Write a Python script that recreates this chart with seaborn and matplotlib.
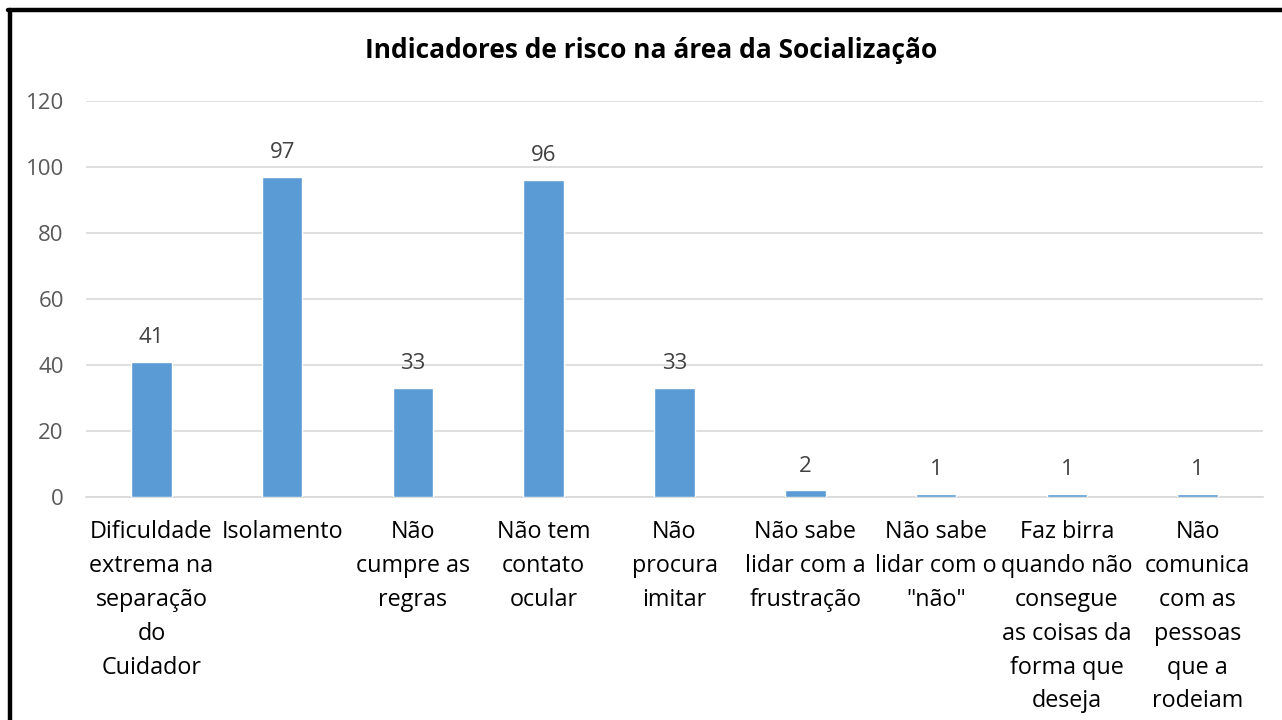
import matplotlib
matplotlib.use("Agg")
import matplotlib.pyplot as plt
import seaborn as sns
import pandas as pd

categories = [
    "Dificuldade\nextrema na\nseparação\ndo\nCuidador",
    "Isolamento",
    "Não\ncumpre as\nregras",
    "Não tem\ncontato\nocular",
    "Não\nprocura\nimitar",
    "Não sabe\nlidar com a\nfrustração",
    "Não sabe\nlidar com o\n\"não\"",
    "Faz birra\nquando não\nconsegue\nas coisas da\nforma que\ndeseja",
    "Não\ncomunica\ncom as\npessoas\nque a\nrodeiam",
]
values = [41, 97, 33, 96, 33, 2, 1, 1, 1]
yticks = [0, 20, 40, 60, 80, 100, 120]
title = "Indicadores de risco na área da Socialização"

sns.set_theme(style="white")
plt.rcParams["font.family"] = ["Open Sans", "DejaVu Sans"]

df = pd.DataFrame({"cat": categories, "val": values})

fig = plt.figure(figsize=(12.82, 7.2), dpi=100)
ax = fig.add_axes([86 / 1282, 1 - 497 / 720, (1263 - 86) / 1282, (497 - 101) / 720])

sns.barplot(data=df, x="cat", y="val", color="#5B9BD5", saturation=1, width=0.31, ax=ax, zorder=3)

ax.set_ylim(0, 120)
ax.set_yticks(yticks)
ax.set_yticklabels([str(t) for t in yticks], fontsize=16, color="#595959")
ax.set_xlim(-0.5, len(categories) - 0.5)
ax.yaxis.grid(True, color="#D9D9D9", linewidth=1.2, zorder=0)
ax.xaxis.grid(False)
for s in ["top", "right", "left"]:
    ax.spines[s].set_visible(False)
ax.spines["bottom"].set_color("#D9D9D9")
ax.spines["bottom"].set_linewidth(1.2)
ax.tick_params(axis="y", length=0, pad=16)
ax.tick_params(axis="x", length=0, pad=16.5)
ax.set_xlabel("")
ax.set_ylabel("")
for lbl in ax.get_xticklabels():
    lbl.set_fontsize(16.8)
    lbl.set_color("#000000")
    lbl.set_linespacing(1.55)
    lbl.set_verticalalignment("top")

for c in ax.containers:
    ax.bar_label(c, labels=[str(v) for v in values], padding=10, fontsize=16, color="#404040")

fig.text(651 / 1282, 1 - 51 / 720, title, ha="center", va="center", fontsize=19,
         fontweight="bold", color="#000000")

# outer border (left and top)
fig.add_artist(plt.Line2D([10 / 1282, 10 / 1282], [0, 1 - 9.5 / 720], color="black", linewidth=3.2,
                          transform=fig.transFigure))
fig.add_artist(plt.Line2D([8 / 1282, 1], [1 - 9.5 / 720, 1 - 9.5 / 720], color="black", linewidth=3.2,
                          transform=fig.transFigure))

fig.savefig("out.png", dpi=100)
